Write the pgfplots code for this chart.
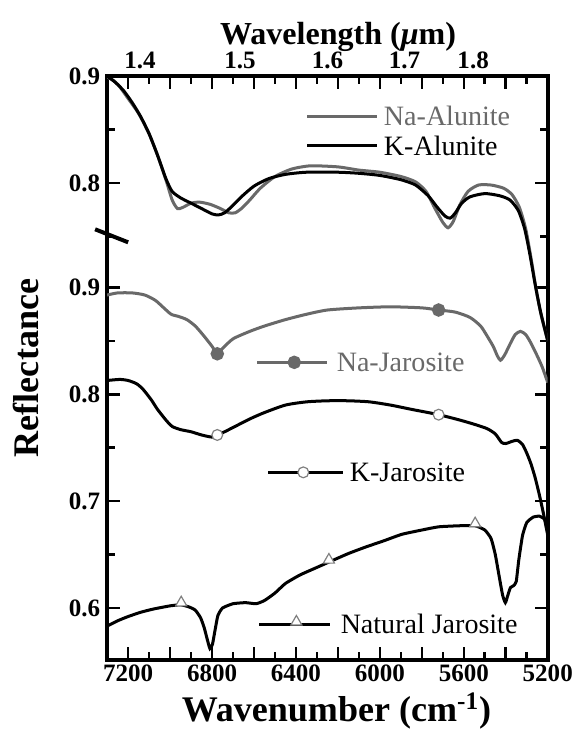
\documentclass[border=0pt]{standalone}
\usepackage{fontspec}
\setmainfont{Liberation Serif}
\usepackage{pgfplots}
\usepackage{pgfplotstable}
\pgfplotsset{compat=1.18}
\definecolor{grayline}{RGB}{105,105,105}

% upper panel (alunites): true reflectance, shifted by +0.198 when plotted
\pgfplotstableread{
wn r
7300 0.899
7270 0.896
7240 0.890
7200 0.879
7150 0.865
7100 0.846
7060 0.826
7020 0.803
6990 0.784
6965 0.776
6940 0.777
6900 0.781
6860 0.782
6810 0.780
6760 0.776
6720 0.772
6690 0.772
6660 0.776
6620 0.784
6570 0.795
6500 0.806
6420 0.813
6330 0.816
6200 0.815
6100 0.812
6000 0.810
5900 0.806
5830 0.801
5780 0.792
5740 0.777
5700 0.763
5675 0.758
5650 0.764
5620 0.779
5580 0.792
5530 0.798
5470 0.798
5410 0.795
5370 0.789
5335 0.777
5305 0.757
5280 0.730
5255 0.700
5230 0.675
5200 0.652
}\naalunite

\pgfplotstableread{
wn r
7300 0.900
7260 0.894
7220 0.886
7180 0.875
7140 0.862
7100 0.846
7060 0.826
7020 0.804
6990 0.792
6950 0.786
6900 0.781
6850 0.776
6800 0.771
6770 0.770
6740 0.772
6700 0.779
6660 0.787
6600 0.797
6530 0.804
6450 0.808
6350 0.810
6200 0.810
6100 0.809
6000 0.807
5900 0.803
5830 0.798
5770 0.788
5730 0.778
5690 0.769
5665 0.767
5640 0.772
5610 0.781
5570 0.787
5500 0.790
5430 0.788
5380 0.784
5340 0.774
5310 0.757
5285 0.733
5260 0.705
5235 0.680
5200 0.652
}\kalunite

% lower panel (jarosites)
\pgfplotstableread{
wn r
7300 0.893
7250 0.895
7180 0.895
7120 0.893
7070 0.888
7030 0.881
6995 0.875
6960 0.873
6920 0.870
6880 0.864
6840 0.855
6800 0.845
6775 0.838
6750 0.843
6700 0.852
6620 0.859
6550 0.864
6450 0.870
6350 0.875
6250 0.879
6100 0.881
5950 0.882
5800 0.881
5720 0.879
5640 0.877
5570 0.872
5520 0.864
5490 0.855
5460 0.845
5440 0.836
5425 0.832
5405 0.837
5380 0.847
5355 0.856
5330 0.859
5305 0.856
5280 0.848
5250 0.836
5225 0.825
5200 0.811
}\najarosite

\pgfplotstableread{
wn r
7300 0.813
7240 0.814
7200 0.813
7160 0.810
7130 0.805
7090 0.795
7060 0.786
7020 0.776
6990 0.770
6950 0.767
6900 0.765
6850 0.762
6800 0.760
6775 0.762
6740 0.765
6690 0.770
6620 0.777
6550 0.783
6450 0.790
6350 0.793
6250 0.794
6150 0.794
6050 0.793
5950 0.790
5850 0.786
5720 0.781
5620 0.776
5550 0.772
5490 0.768
5450 0.763
5420 0.755
5400 0.754
5370 0.756
5345 0.757
5320 0.753
5300 0.745
5280 0.735
5260 0.722
5240 0.706
5220 0.688
5200 0.668
}\kjarosite

\pgfplotstableread{
wn r
7300 0.583
7250 0.588
7200 0.592
7140 0.596
7080 0.599
7000 0.602
6950 0.603
6910 0.601
6880 0.598
6855 0.591
6838 0.582
6822 0.570
6810 0.562
6798 0.566
6785 0.580
6772 0.593
6750 0.600
6700 0.604
6640 0.605
6590 0.604
6550 0.607
6500 0.614
6450 0.623
6380 0.631
6300 0.638
6243 0.643
6150 0.651
6069 0.657
5980 0.663
5895 0.669
5800 0.673
5720 0.676
5620 0.677
5546 0.677
5500 0.673
5470 0.665
5450 0.650
5430 0.628
5415 0.612
5402 0.605
5390 0.612
5378 0.619
5362 0.621
5350 0.625
5338 0.645
5320 0.668
5300 0.680
5270 0.685
5240 0.686
5215 0.683
5200 0.674
}\natjarosite

\begin{document}
\begin{tikzpicture}
\begin{axis}[
  at={(0,0)}, anchor=south west,
  scale only axis, width=220pt, height=291.5pt,
  xmin=5200, xmax=7300, x dir=reverse,
  ymin=0.5514, ymax=1.098,
  xtick={5200,5400,...,7200},
  xticklabels={5200,,5600,,6000,,6400,,6800,,7200},
  minor x tick num=1,
  ytick={0.6,0.7,0.8,0.9,0.998,1.098},
  yticklabels={0.6,0.7,0.8,0.9,0.8,0.9},
  minor ytick={0.65,0.75,0.85,0.948,1.048},
  xtick pos=both, ytick pos=both,
  tick align=inside,
  major tick length=6.5pt, minor tick length=4pt,
  tick style={line width=1.3pt, black},
  axis line style={line width=2pt},
  ticklabel style={font=\bfseries\fontsize{12.5}{13}\selectfont},
  xticklabel style={inner sep=1.5pt, yshift=-1pt},
  xlabel={Wavenumber (cm\textsuperscript{-1})},
  xlabel style={font=\bfseries\fontsize{18}{20}\selectfont,
    at={(axis description cs:0.5205,0)}, anchor=base, yshift=-31pt},
  ylabel={Reflectance},
  ylabel style={font=\bfseries\fontsize{18}{20}\selectfont,
    at={(axis description cs:0,0.5)}, anchor=center, yshift=40.5pt},
  clip mode=individual,
  every axis plot/.append style={line width=1.5pt},
]
% spectra
\addplot[grayline, smooth, tension=0.4] table[x=wn, y expr=\thisrow{r}+0.198] {\naalunite};
\addplot[black, smooth, tension=0.4] table[x=wn, y expr=\thisrow{r}+0.198] {\kalunite};
\addplot[grayline, smooth, tension=0.4] table[x=wn, y=r] {\najarosite};
\addplot[black, smooth, tension=0.4] table[x=wn, y=r] {\kjarosite};
\addplot[black, smooth, tension=0.3] table[x=wn, y=r] {\natjarosite};

% markers on curves
\addplot[only marks, mark=*, mark size=2.6pt, grayline] coordinates {(6775,0.838) (5720,0.879)};
\addplot[only marks, mark=*, mark size=2.7pt, mark options={fill=white, draw=gray, line width=0.6pt}] coordinates {(6775,0.762) (5720,0.781)};
\addplot[only marks, mark=triangle*, mark size=3.2pt, mark options={fill=white, draw=gray, line width=0.6pt}] coordinates {(6947,0.605) (6243,0.645) (5546,0.679)};

% key samples
\addplot[grayline] coordinates {(6347,1.0606) (6016,1.0606)};
\addplot[black] coordinates {(6347,1.0326) (6016,1.0326)};
\addplot[grayline] coordinates {(6584,0.830) (6250,0.830)};
\addplot[only marks, mark=*, mark size=2.6pt, grayline] coordinates {(6408,0.830)};
\addplot[black] coordinates {(6532,0.727) (6174,0.727)};
\addplot[only marks, mark=*, mark size=2.7pt, mark options={fill=white, draw=gray, line width=0.6pt}] coordinates {(6365,0.727)};
\addplot[black] coordinates {(6575,0.585) (6236,0.585)};
\addplot[only marks, mark=triangle*, mark size=3.2pt, mark options={fill=white, draw=gray, line width=0.6pt}] coordinates {(6398,0.587)};

\node[anchor=west, text=grayline, font=\fontsize{14}{16}\selectfont, inner sep=1pt] at (axis cs:5992,1.0606) {Na-Alunite};
\node[anchor=west, font=\fontsize{14}{16}\selectfont, inner sep=1pt] at (axis cs:5992,1.0326) {K-Alunite};
\node[anchor=west, text=grayline, font=\fontsize{14}{16}\selectfont, inner sep=1pt] at (axis cs:6217,0.830) {Na-Jarosite};
\node[anchor=west, font=\fontsize{14}{16}\selectfont, inner sep=1pt] at (axis cs:6155,0.727) {K-Jarosite};
\node[anchor=west, font=\fontsize{14}{16}\selectfont, inner sep=1pt] at (axis cs:6198,0.585) {Natural Jarosite};

% axis break mark
\draw[line width=2pt] ([xshift=-6pt,yshift=3.5pt]axis cs:7300,0.948) -- ([xshift=10.5pt,yshift=-3pt]axis cs:7300,0.948);
\end{axis}

% wavelength labels on the top
\begin{axis}[
  at={(0,0)}, anchor=south west,
  scale only axis, width=220pt, height=291.5pt,
  xmin=5200, xmax=7300, x dir=reverse,
  ymin=0, ymax=1,
  axis x line*=top, axis y line=none,
  xtick={5555.56,5882.35,6250,6666.67,7142.86},
  xticklabels={1.8,1.7,1.6,1.5,1.4},
  major tick length=0pt,
  axis line style={line width=2pt, -},
  ticklabel style={font=\bfseries\fontsize{12.5}{13}\selectfont},
  xlabel={Wavelength (\textit{μ}m)},
  xlabel style={font=\bfseries\fontsize{16}{18}\selectfont,
    at={(axis description cs:0.524,1)}, anchor=base, yshift=16pt},
]
\end{axis}

\pgfresetboundingbox
\path[use as bounding box] (-53.5pt,-37pt) rectangle (232.5pt,329.5pt);
\end{tikzpicture}
\end{document}
